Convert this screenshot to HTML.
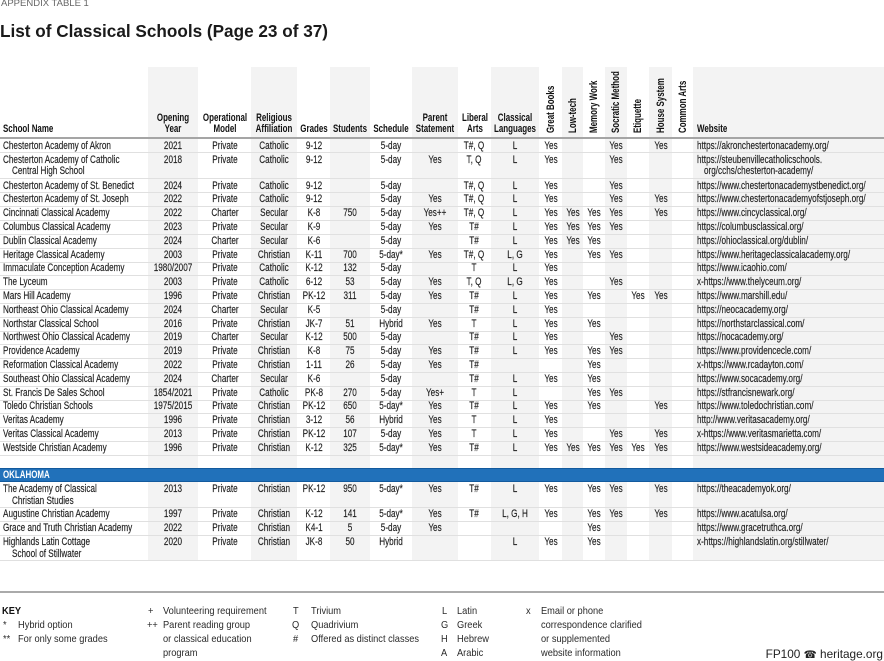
<!DOCTYPE html>
<html><head><meta charset="utf-8"><style>
*{margin:0;padding:0;box-sizing:border-box}
html,body{width:884px;height:661px;overflow:hidden;background:#fff}
body{position:relative;font-family:"Liberation Sans",Arial,sans-serif;color:#1e1e1e}
.sh{position:absolute;top:67px;height:493px;background:#f3f3f3}
.ln{position:absolute;left:0;width:884px;height:1px;background:#e0e0e0}
.r{position:absolute;left:0;width:884px;height:14px}
.r span{position:absolute;top:0;white-space:nowrap;font-size:10.6px;line-height:14px;-webkit-text-stroke:0.15px #1e1e1e}
.r span.l2{top:11.5px}
.n,.w{transform-origin:0 50%;transform:scaleX(.77)}
.n{left:3px}.n.l2{left:12px}
.w{left:697px}.w.l2{left:704px}
.a,.b,.c,.d,.e,.f,.g,.h,.i,.j,.k,.m,.o,.p,.q{transform:translateX(-50%) scaleX(.77)}
.a{left:173px}.b{left:224.5px}.c{left:274px}.d{left:313.5px}.e{left:350px}.f{left:391px}.g{left:435px}.h{left:474px}.i{left:515px}
.j{left:550.5px}.k{left:572.5px}.m{left:594px}.o{left:616px}.p{left:638px}.q{left:660.5px}
.hd{position:absolute;white-space:nowrap;font-size:10.6px;line-height:14px;font-weight:bold;color:#111}
.hc{transform:translateX(-50%) scaleX(.75)}
.hl{transform-origin:0 50%;transform:scaleX(.75)}
.rot{top:133px;transform-origin:0 0;transform:rotate(-90deg) scaleX(.75) translateY(-50%)}
.kk{position:absolute;white-space:nowrap;font-size:10.3px;line-height:14px;color:#2a2a2a;transform-origin:0 50%;transform:scaleX(.9)}
</style></head><body>

<div style="position:absolute;left:1px;top:-1.8px;font-size:9.5px;line-height:11px;color:#666;white-space:nowrap">APPENDIX TABLE 1</div>
<div style="position:absolute;left:0;top:20.6px;font-size:17.7px;line-height:20px;font-weight:bold;color:#1a1a1a;white-space:nowrap;transform-origin:0 50%;transform:scaleX(.97)">List of Classical Schools (Page 23 of 37)</div>

<!-- column shading -->
<div class="sh" style="left:148px;width:50px"></div>
<div class="sh" style="left:251px;width:46px"></div>
<div class="sh" style="left:330px;width:40px"></div>
<div class="sh" style="left:412px;width:46px"></div>
<div class="sh" style="left:491px;width:48px"></div>
<div class="sh" style="left:562px;width:21px"></div>
<div class="sh" style="left:605px;width:22px"></div>
<div class="sh" style="left:649px;width:23px"></div>
<div class="sh" style="left:693px;width:191px"></div>

<!-- header -->
<span class="hd hl" style="left:3px;top:121.7px">School Name</span>
<span class="hd hc" style="left:173px;top:110.7px">Opening</span>
<span class="hd hc" style="left:173px;top:121.7px">Year</span>
<span class="hd hc" style="left:224.5px;top:110.7px">Operational</span>
<span class="hd hc" style="left:224.5px;top:121.7px">Model</span>
<span class="hd hc" style="left:274px;top:110.7px">Religious</span>
<span class="hd hc" style="left:274px;top:121.7px">Affiliation</span>
<span class="hd hc" style="left:313.5px;top:121.7px">Grades</span>
<span class="hd hc" style="left:350px;top:121.7px">Students</span>
<span class="hd hc" style="left:391px;top:121.7px">Schedule</span>
<span class="hd hc" style="left:435px;top:110.7px">Parent</span>
<span class="hd hc" style="left:435px;top:121.7px">Statement</span>
<span class="hd hc" style="left:474.5px;top:110.7px">Liberal</span>
<span class="hd hc" style="left:474.5px;top:121.7px">Arts</span>
<span class="hd hc" style="left:515px;top:110.7px">Classical</span>
<span class="hd hc" style="left:515px;top:121.7px">Languages</span>
<span class="hd rot" style="left:550.5px">Great Books</span>
<span class="hd rot" style="left:572.5px">Low-tech</span>
<span class="hd rot" style="left:594px">Memory Work</span>
<span class="hd rot" style="left:616px">Socratic Method</span>
<span class="hd rot" style="left:638px">Etiquette</span>
<span class="hd rot" style="left:660.5px">House System</span>
<span class="hd rot" style="left:682.5px">Common Arts</span>
<span class="hd hl" style="left:697px;top:121.7px">Website</span>
<div style="position:absolute;left:0;top:137px;width:884px;height:2px;background:#a5a5a5"></div>

<!-- row lines -->
<div class="ln" style="top:152px"></div><div class="ln" style="top:178px"></div><div class="ln" style="top:192px"></div>
<div class="ln" style="top:206px"></div><div class="ln" style="top:220px"></div><div class="ln" style="top:234px"></div>
<div class="ln" style="top:248px"></div><div class="ln" style="top:262px"></div><div class="ln" style="top:275px"></div>
<div class="ln" style="top:289px"></div><div class="ln" style="top:303px"></div><div class="ln" style="top:317px"></div>
<div class="ln" style="top:331px"></div><div class="ln" style="top:344px"></div><div class="ln" style="top:358px"></div>
<div class="ln" style="top:372px"></div><div class="ln" style="top:386px"></div><div class="ln" style="top:400px"></div>
<div class="ln" style="top:413px"></div><div class="ln" style="top:427px"></div><div class="ln" style="top:441px"></div>
<div class="ln" style="top:455px"></div>
<div class="ln" style="top:507px"></div><div class="ln" style="top:521px"></div><div class="ln" style="top:535px"></div><div class="ln" style="top:560px"></div>

<!-- Ohio rows -->
<div class="r" style="top:138.7px"><span class="n">Chesterton Academy of Akron</span><span class="a">2021</span><span class="b">Private</span><span class="c">Catholic</span><span class="d">9-12</span><span class="f">5-day</span><span class="h">T#, Q</span><span class="i">L</span><span class="j">Yes</span><span class="o">Yes</span><span class="q">Yes</span><span class="w">https://akronchestertonacademy.org/</span></div>
<div class="r" style="top:152.6px"><span class="n">Chesterton Academy of Catholic</span><span class="n l2">Central High School</span><span class="a">2018</span><span class="b">Private</span><span class="c">Catholic</span><span class="d">9-12</span><span class="f">5-day</span><span class="g">Yes</span><span class="h">T, Q</span><span class="i">L</span><span class="j">Yes</span><span class="o">Yes</span><span class="w">https://steubenvillecatholicschools.</span><span class="w l2">org/cchs/chesterton-academy/</span></div>
<div class="r" style="top:178.6px"><span class="n">Chesterton Academy of St. Benedict</span><span class="a">2024</span><span class="b">Private</span><span class="c">Catholic</span><span class="d">9-12</span><span class="f">5-day</span><span class="h">T#, Q</span><span class="i">L</span><span class="j">Yes</span><span class="o">Yes</span><span class="w">https://www.chestertonacademystbenedict.org/</span></div>
<div class="r" style="top:192.4px"><span class="n">Chesterton Academy of St. Joseph</span><span class="a">2022</span><span class="b">Private</span><span class="c">Catholic</span><span class="d">9-12</span><span class="f">5-day</span><span class="g">Yes</span><span class="h">T#, Q</span><span class="i">L</span><span class="j">Yes</span><span class="o">Yes</span><span class="q">Yes</span><span class="w">https://www.chestertonacademyofstjoseph.org/</span></div>
<div class="r" style="top:206.2px"><span class="n">Cincinnati Classical Academy</span><span class="a">2022</span><span class="b">Charter</span><span class="c">Secular</span><span class="d">K-8</span><span class="e">750</span><span class="f">5-day</span><span class="g">Yes++</span><span class="h">T#, Q</span><span class="i">L</span><span class="j">Yes</span><span class="k">Yes</span><span class="m">Yes</span><span class="o">Yes</span><span class="q">Yes</span><span class="w">https://www.cincyclassical.org/</span></div>
<div class="r" style="top:220px"><span class="n">Columbus Classical Academy</span><span class="a">2023</span><span class="b">Private</span><span class="c">Secular</span><span class="d">K-9</span><span class="f">5-day</span><span class="g">Yes</span><span class="h">T#</span><span class="i">L</span><span class="j">Yes</span><span class="k">Yes</span><span class="m">Yes</span><span class="o">Yes</span><span class="w">https://columbusclassical.org/</span></div>
<div class="r" style="top:233.8px"><span class="n">Dublin Classical Academy</span><span class="a">2024</span><span class="b">Charter</span><span class="c">Secular</span><span class="d">K-6</span><span class="f">5-day</span><span class="h">T#</span><span class="i">L</span><span class="j">Yes</span><span class="k">Yes</span><span class="m">Yes</span><span class="w">https://ohioclassical.org/dublin/</span></div>
<div class="r" style="top:247.6px"><span class="n">Heritage Classical Academy</span><span class="a">2003</span><span class="b">Private</span><span class="c">Christian</span><span class="d">K-11</span><span class="e">700</span><span class="f">5-day*</span><span class="g">Yes</span><span class="h">T#, Q</span><span class="i">L, G</span><span class="j">Yes</span><span class="m">Yes</span><span class="o">Yes</span><span class="w">https://www.heritageclassicalacademy.org/</span></div>
<div class="r" style="top:261.4px"><span class="n">Immaculate Conception Academy</span><span class="a">1980/2007</span><span class="b">Private</span><span class="c">Catholic</span><span class="d">K-12</span><span class="e">132</span><span class="f">5-day</span><span class="h">T</span><span class="i">L</span><span class="j">Yes</span><span class="w">https://www.icaohio.com/</span></div>
<div class="r" style="top:275.2px"><span class="n">The Lyceum</span><span class="a">2003</span><span class="b">Private</span><span class="c">Catholic</span><span class="d">6-12</span><span class="e">53</span><span class="f">5-day</span><span class="g">Yes</span><span class="h">T, Q</span><span class="i">L, G</span><span class="j">Yes</span><span class="o">Yes</span><span class="w">x-https://www.thelyceum.org/</span></div>
<div class="r" style="top:289px"><span class="n">Mars Hill Academy</span><span class="a">1996</span><span class="b">Private</span><span class="c">Christian</span><span class="d">PK-12</span><span class="e">311</span><span class="f">5-day</span><span class="g">Yes</span><span class="h">T#</span><span class="i">L</span><span class="j">Yes</span><span class="m">Yes</span><span class="p">Yes</span><span class="q">Yes</span><span class="w">https://www.marshill.edu/</span></div>
<div class="r" style="top:302.8px"><span class="n">Northeast Ohio Classical Academy</span><span class="a">2024</span><span class="b">Charter</span><span class="c">Secular</span><span class="d">K-5</span><span class="f">5-day</span><span class="h">T#</span><span class="i">L</span><span class="j">Yes</span><span class="w">https://neocacademy.org/</span></div>
<div class="r" style="top:316.6px"><span class="n">Northstar Classical School</span><span class="a">2016</span><span class="b">Private</span><span class="c">Christian</span><span class="d">JK-7</span><span class="e">51</span><span class="f">Hybrid</span><span class="g">Yes</span><span class="h">T</span><span class="i">L</span><span class="j">Yes</span><span class="m">Yes</span><span class="w">https://northstarclassical.com/</span></div>
<div class="r" style="top:330.4px"><span class="n">Northwest Ohio Classical Academy</span><span class="a">2019</span><span class="b">Charter</span><span class="c">Secular</span><span class="d">K-12</span><span class="e">500</span><span class="f">5-day</span><span class="h">T#</span><span class="i">L</span><span class="j">Yes</span><span class="o">Yes</span><span class="w">https://nocacademy.org/</span></div>
<div class="r" style="top:344.2px"><span class="n">Providence Academy</span><span class="a">2019</span><span class="b">Private</span><span class="c">Christian</span><span class="d">K-8</span><span class="e">75</span><span class="f">5-day</span><span class="g">Yes</span><span class="h">T#</span><span class="i">L</span><span class="j">Yes</span><span class="m">Yes</span><span class="o">Yes</span><span class="w">https://www.providencecle.com/</span></div>
<div class="r" style="top:358px"><span class="n">Reformation Classical Academy</span><span class="a">2022</span><span class="b">Private</span><span class="c">Christian</span><span class="d">1-11</span><span class="e">26</span><span class="f">5-day</span><span class="g">Yes</span><span class="h">T#</span><span class="m">Yes</span><span class="w">x-https://www.rcadayton.com/</span></div>
<div class="r" style="top:371.8px"><span class="n">Southeast Ohio Classical Academy</span><span class="a">2024</span><span class="b">Charter</span><span class="c">Secular</span><span class="d">K-6</span><span class="f">5-day</span><span class="h">T#</span><span class="i">L</span><span class="j">Yes</span><span class="m">Yes</span><span class="w">https://www.socacademy.org/</span></div>
<div class="r" style="top:385.6px"><span class="n">St. Francis De Sales School</span><span class="a">1854/2021</span><span class="b">Private</span><span class="c">Catholic</span><span class="d">PK-8</span><span class="e">270</span><span class="f">5-day</span><span class="g">Yes+</span><span class="h">T</span><span class="i">L</span><span class="m">Yes</span><span class="o">Yes</span><span class="w">https://stfrancisnewark.org/</span></div>
<div class="r" style="top:399.4px"><span class="n">Toledo Christian Schools</span><span class="a">1975/2015</span><span class="b">Private</span><span class="c">Christian</span><span class="d">PK-12</span><span class="e">650</span><span class="f">5-day*</span><span class="g">Yes</span><span class="h">T#</span><span class="i">L</span><span class="j">Yes</span><span class="m">Yes</span><span class="q">Yes</span><span class="w">https://www.toledochristian.com/</span></div>
<div class="r" style="top:413.2px"><span class="n">Veritas Academy</span><span class="a">1996</span><span class="b">Private</span><span class="c">Christian</span><span class="d">3-12</span><span class="e">56</span><span class="f">Hybrid</span><span class="g">Yes</span><span class="h">T</span><span class="i">L</span><span class="j">Yes</span><span class="w">http://www.veritasacademy.org/</span></div>
<div class="r" style="top:427px"><span class="n">Veritas Classical Academy</span><span class="a">2013</span><span class="b">Private</span><span class="c">Christian</span><span class="d">PK-12</span><span class="e">107</span><span class="f">5-day</span><span class="g">Yes</span><span class="h">T</span><span class="i">L</span><span class="j">Yes</span><span class="o">Yes</span><span class="q">Yes</span><span class="w">x-https://www.veritasmarietta.com/</span></div>
<div class="r" style="top:440.8px"><span class="n">Westside Christian Academy</span><span class="a">1996</span><span class="b">Private</span><span class="c">Christian</span><span class="d">K-12</span><span class="e">325</span><span class="f">5-day*</span><span class="g">Yes</span><span class="h">T#</span><span class="i">L</span><span class="j">Yes</span><span class="k">Yes</span><span class="m">Yes</span><span class="o">Yes</span><span class="p">Yes</span><span class="q">Yes</span><span class="w">https://www.westsideacademy.org/</span></div>

<!-- Oklahoma bar -->
<div style="position:absolute;left:0;top:468px;width:884px;height:14px;background:#2171ba;border-top:1px solid #135a9d;border-bottom:1px solid #135a9d"></div>
<span class="hd hl" style="left:3px;top:467.7px;color:#fff">OKLAHOMA</span>

<div class="r" style="top:482px"><span class="n">The Academy of Classical</span><span class="n l2">Christian Studies</span><span class="a">2013</span><span class="b">Private</span><span class="c">Christian</span><span class="d">PK-12</span><span class="e">950</span><span class="f">5-day*</span><span class="g">Yes</span><span class="h">T#</span><span class="i">L</span><span class="j">Yes</span><span class="m">Yes</span><span class="o">Yes</span><span class="q">Yes</span><span class="w">https://theacademyok.org/</span></div>
<div class="r" style="top:507.2px"><span class="n">Augustine Christian Academy</span><span class="a">1997</span><span class="b">Private</span><span class="c">Christian</span><span class="d">K-12</span><span class="e">141</span><span class="f">5-day*</span><span class="g">Yes</span><span class="h">T#</span><span class="i">L, G, H</span><span class="j">Yes</span><span class="m">Yes</span><span class="o">Yes</span><span class="q">Yes</span><span class="w">https://www.acatulsa.org/</span></div>
<div class="r" style="top:521px"><span class="n">Grace and Truth Christian Academy</span><span class="a">2022</span><span class="b">Private</span><span class="c">Christian</span><span class="d">K4-1</span><span class="e">5</span><span class="f">5-day</span><span class="g">Yes</span><span class="m">Yes</span><span class="w">https://www.gracetruthca.org/</span></div>
<div class="r" style="top:535px"><span class="n">Highlands Latin Cottage</span><span class="n l2">School of Stillwater</span><span class="a">2020</span><span class="b">Private</span><span class="c">Christian</span><span class="d">JK-8</span><span class="e">50</span><span class="f">Hybrid</span><span class="i">L</span><span class="j">Yes</span><span class="m">Yes</span><span class="w">x-https://highlandslatin.org/stillwater/</span></div>

<!-- footer -->
<div style="position:absolute;left:0;top:591px;width:884px;height:2px;background:#aaa"></div>

<span class="kk" style="left:2px;top:605.2px;font-weight:bold;color:#111">KEY</span>
<span class="kk" style="left:3px;top:619px">*</span><span class="kk" style="left:18px;top:619px">Hybrid option</span>
<span class="kk" style="left:3px;top:632.8px">**</span><span class="kk" style="left:18px;top:632.8px">For only some grades</span>

<span class="kk" style="left:148px;top:605.2px">+</span><span class="kk" style="left:163px;top:605.2px">Volunteering requirement</span>
<span class="kk" style="left:146.5px;top:619px">++</span><span class="kk" style="left:163px;top:619px">Parent reading group</span>
<span class="kk" style="left:163px;top:632.8px">or classical education</span>
<span class="kk" style="left:163px;top:646.6px">program</span>

<span class="kk" style="left:293px;top:605.2px">T</span><span class="kk" style="left:311px;top:605.2px">Trivium</span>
<span class="kk" style="left:292px;top:619px">Q</span><span class="kk" style="left:311px;top:619px">Quadrivium</span>
<span class="kk" style="left:293px;top:632.8px">#</span><span class="kk" style="left:311px;top:632.8px">Offered as distinct classes</span>

<span class="kk" style="left:442px;top:605.2px">L</span><span class="kk" style="left:457px;top:605.2px">Latin</span>
<span class="kk" style="left:441px;top:619px">G</span><span class="kk" style="left:457px;top:619px">Greek</span>
<span class="kk" style="left:441px;top:632.8px">H</span><span class="kk" style="left:457px;top:632.8px">Hebrew</span>
<span class="kk" style="left:441px;top:646.6px">A</span><span class="kk" style="left:457px;top:646.6px">Arabic</span>

<span class="kk" style="left:526px;top:605.2px">x</span><span class="kk" style="left:541px;top:605.2px">Email or phone</span>
<span class="kk" style="left:541px;top:619px">correspondence clarified</span>
<span class="kk" style="left:541px;top:632.8px">or supplemented</span>
<span class="kk" style="left:541px;top:646.6px">website information</span>

<div style="position:absolute;right:1px;top:647px;font-size:11.8px;line-height:14px;color:#222;white-space:nowrap">FP100 <span style="font-family:'DejaVu Sans',sans-serif;font-size:10.5px">☎</span> heritage.org</div>

</body></html>
